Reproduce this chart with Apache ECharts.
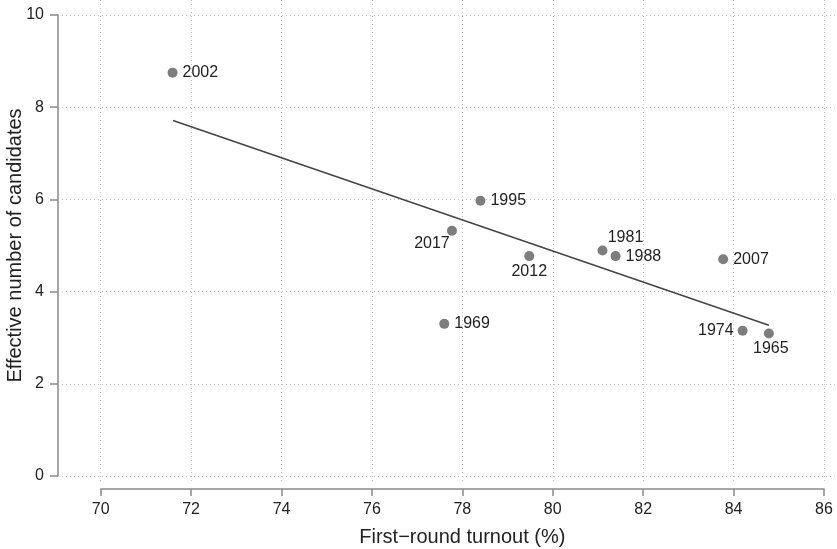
<!DOCTYPE html>
<html>
<head>
<meta charset="utf-8">
<title>Turnout vs effective number of candidates</title>
<script src="https://cdn.jsdelivr.net/npm/echarts@6/dist/echarts.min.js"></script>
<style>
	html, body { margin: 0; padding: 0; background: #fff; }
	#chart { width: 837px; height: 549px; }
</style>
</head>
<body>
<div id="chart"></div>
<script>
	// 数据
	var years = ['1965', '1969', '1974', '1981', '1988', '1995', '2002', '2007', '2012', '2017'];
	var turnout = [84.78, 77.60, 84.20, 81.10, 81.39, 78.40, 71.59, 83.77, 79.48, 77.77];
	var candidates = [3.09, 3.30, 3.15, 4.89, 4.77, 5.97, 8.75, 4.70, 4.77, 5.32];
	var fitX = [71.6, 84.78];
	var fitY = [7.71, 3.27];
	var xTicks = [70, 86, 2];
	var yTicks = [0, 10, 2];

	// 标签位置
	var labelPlace = {
		'1965': { position: 'bottom', distance: 2, offset: [2, 0] },
		'1974': { position: 'left', distance: 4 },
		'1981': { position: 'inside', offset: [23, -13] },
		'2012': { position: 'bottom', distance: 2 },
		'2017': { position: 'bottom', distance: 0, offset: [-20, 0] }
	};

	var font = '"Liberation Sans", Arial, Helvetica, sans-serif';
	var gridLine = { show: true, lineStyle: { color: '#c4c4c4', type: [1, 3], width: 1 } };
	var axisGray = '#8a8a8a';

	var points = years.map(function (y, i) {
		var p = labelPlace[y] || { position: 'right', distance: 5 };
		return {
			value: [turnout[i], candidates[i]],
			label: {
				show: true,
				formatter: y,
				position: p.position,
				distance: p.distance === undefined ? 5 : p.distance,
				offset: p.offset || [0, 0]
			}
		};
	});

	var fitLine = fitX.map(function (x, i) { return [x, fitY[i]]; });

	// 隐藏的占位轴
	function hidden(grid, ticks) {
		return { gridIndex: grid, type: 'value', min: ticks ? ticks[0] : 0, max: ticks ? ticks[1] : 1, show: false };
	}

	// 只画网格线的轴
	function gridOnly(grid, ticks) {
		return {
			gridIndex: grid, type: 'value', min: ticks[0], max: ticks[1], interval: ticks[2],
			axisLine: { show: false }, axisTick: { show: false }, axisLabel: { show: false },
			splitLine: gridLine
		};
	}

	var option = {
		animation: false,
		textStyle: { fontFamily: font },
		grid: [
			// 0: y轴
			{ left: 58, right: 13, top: 15, bottom: 73, outerBoundsMode: 'none' },
			// 1: 横向网格线
			{ left: 62, right: 0, top: 15, bottom: 73, outerBoundsMode: 'none' },
			// 2: 纵向网格线
			{ left: 100.7, right: 13, top: 0, bottom: 66, outerBoundsMode: 'none' },
			// 3: x轴
			{ left: 100.7, right: 13, top: 15, bottom: 60, outerBoundsMode: 'none' },
			// 4: 数据
			{ left: 100.7, right: 13, top: 15, bottom: 73, outerBoundsMode: 'none' }
		],
		xAxis: [
			hidden(0),
			hidden(1),
			gridOnly(2, xTicks),
			{
				gridIndex: 3, type: 'value', min: xTicks[0], max: xTicks[1], interval: xTicks[2],
				name: 'First\u2212round turnout (%)',
				nameLocation: 'middle',
				nameGap: 38,
				nameMoveOverlap: false,
				nameTextStyle: { fontSize: 20, color: '#222', fontFamily: font },
				axisLine: { show: true, onZero: false, lineStyle: { color: axisGray, width: 1.5 } },
				axisTick: { show: true, length: 7, lineStyle: { color: axisGray, width: 1.5 } },
				axisLabel: { fontSize: 16, color: '#222', margin: 13, fontFamily: font },
				splitLine: { show: false }
			},
			hidden(4, xTicks)
		],
		yAxis: [
			{
				gridIndex: 0, type: 'value', min: yTicks[0], max: yTicks[1], interval: yTicks[2],
				name: 'Effective number of candidates',
				nameLocation: 'middle',
				nameGap: 33,
				nameMoveOverlap: false,
				nameTextStyle: { fontSize: 20, color: '#222', fontFamily: font },
				axisLine: { show: true, onZero: false, lineStyle: { color: axisGray, width: 1.5 } },
				axisTick: { show: true, length: 8, lineStyle: { color: axisGray, width: 1.5 } },
				axisLabel: { fontSize: 16, color: '#222', margin: 14, fontFamily: font },
				splitLine: { show: false }
			},
			gridOnly(1, yTicks),
			hidden(2),
			hidden(3),
			hidden(4, yTicks)
		],
		series: [
			{
				type: 'line',
				xAxisIndex: 4,
				yAxisIndex: 4,
				data: fitLine,
				showSymbol: false,
				silent: true,
				lineStyle: { color: '#454545', width: 1.6 },
				z: 2
			},
			{
				type: 'scatter',
				xAxisIndex: 4,
				yAxisIndex: 4,
				data: points,
				symbolSize: 10,
				itemStyle: { color: '#7d7d7d', opacity: 1 },
				label: { fontSize: 16, color: '#222', fontFamily: font },
				z: 3
			}
		]
	};

	var myChart = echarts.init(document.getElementById('chart'));
	myChart.setOption(option);
</script>
</body>
</html>
